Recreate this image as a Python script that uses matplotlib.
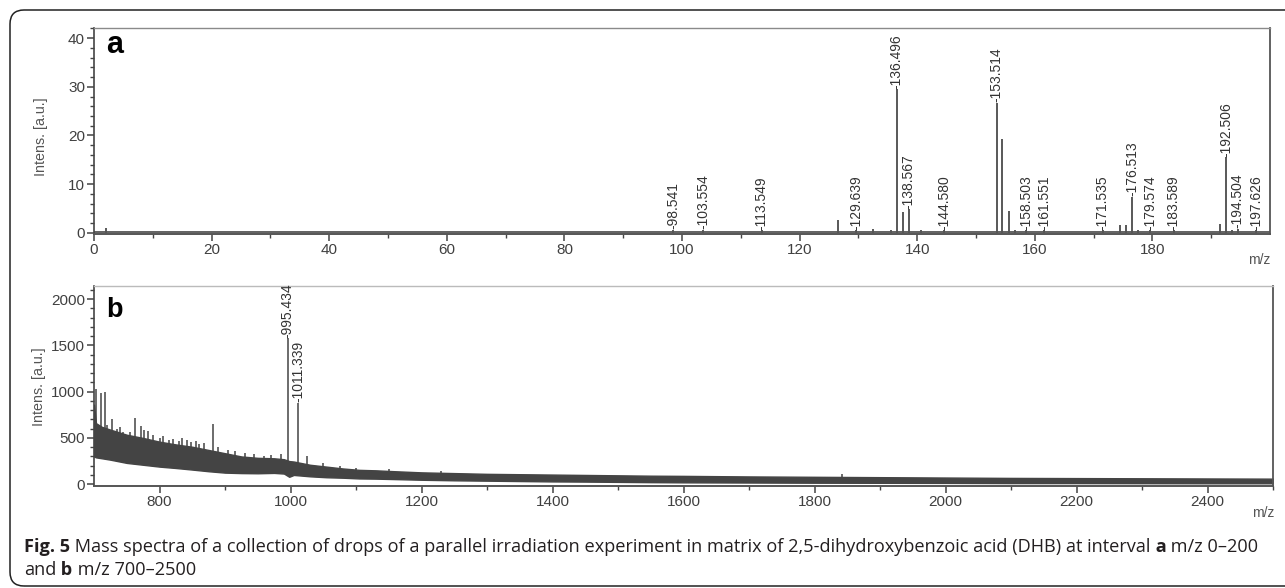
import numpy as np
import matplotlib
matplotlib.use('Agg')
import matplotlib.pyplot as plt
from matplotlib.patches import FancyBboxPatch
from matplotlib.transforms import IdentityTransform
from matplotlib.ticker import FixedLocator

# ---------------- data: panel a (m/z 0-200) ----------------
a_mz = [2.1, 98.541, 103.554, 113.549, 126.6, 129.639, 132.5, 135.6, 136.496, 137.6,
        138.567, 140.6, 144.580, 153.514, 154.5, 155.6, 156.6, 158.503, 161.551,
        171.535, 174.5, 175.5, 176.513, 177.6, 179.574, 183.589, 191.5, 192.506,
        193.5, 194.504, 197.626]
a_int = [1.0, 0.6, 0.6, 0.5, 2.6, 0.5, 0.8, 0.6, 29.5, 4.3,
         4.8, 0.5, 0.5, 26.7, 19.2, 4.5, 0.6, 0.5, 0.5,
         0.5, 1.6, 1.6, 7.4, 0.6, 0.5, 0.5, 1.7, 15.5,
         0.6, 0.8, 0.5]
a_labels = ['', '98.541', '103.554', '113.549', '', '129.639', '', '', '136.496', '',
            '138.567', '', '144.580', '153.514', '', '', '', '158.503', '161.551',
            '171.535', '', '', '176.513', '', '179.574', '183.589', '', '192.506',
            '', '194.504', '197.626']
a_xticks = [0, 20, 40, 60, 80, 100, 120, 140, 160, 180]
a_yticks = [0, 10, 20, 30, 40]

# ---------------- data: panel b (m/z 700-2500) ----------------
band_mz = [700, 703, 712, 725, 750, 775, 800, 825, 850, 875, 900, 925, 950, 975, 990,
           998, 1005, 1030, 1055, 1080, 1105, 1130, 1160, 1200, 1250, 1300, 1350, 1400,
           1450, 1500, 1550, 1600, 1700, 1800, 1900, 2000, 2100, 2200, 2300, 2400, 2500]
band_hi = [860, 660, 620, 590, 535, 500, 460, 430, 405, 370, 335, 300, 285, 280, 270,
           250, 245, 210, 190, 170, 155, 150, 140, 128, 120, 112, 108, 104,
           100, 96, 92, 90, 84, 80, 76, 72, 68, 66, 64, 62, 60]
band_lo = [300, 290, 280, 265, 230, 210, 190, 175, 158, 140, 125, 120, 118, 122, 115,
           80, 100, 85, 75, 70, 62, 60, 55, 48, 42, 38, 34, 30,
           28, 25, 22, 20, 18, 16, 15, 14, 12, 12, 11, 10, 10]
b_spike_mz = [703.8, 710, 716.5, 720, 728, 735, 740, 745, 755, 763, 771, 776, 782,
              790, 800, 805, 815, 820, 830, 835, 842, 848, 855, 860, 868, 882, 890,
              905, 915, 930, 945, 960, 970, 985, 995.434, 1011.339, 1025, 1050, 1075,
              1100, 1150, 1230, 1842]
b_spike_int = [1030, 990, 1000, 640, 700, 600, 620, 560, 560, 712, 630, 590, 580,
               530, 500, 520, 480, 490, 470, 500, 480, 460, 470, 440, 450, 650, 400,
               370, 360, 340, 330, 300, 320, 330, 1580, 882, 300, 230, 200,
               180, 160, 140, 110]
b_labels = {995.434: '995.434', 1011.339: '1011.339'}
b_xticks = [800, 1000, 1200, 1400, 1600, 1800, 2000, 2200, 2400]
b_yticks = [0, 500, 1000, 1500, 2000]

W, H = 1285, 588
fig = plt.figure(figsize=(W / 100, H / 100), dpi=100)


def fx(px):
    return px / W


def fy(py):
    return 1 - py / H


TICKFONT = 'Liberation Sans'
INK = '#3c3c3c'

axA = fig.add_axes([fx(94), fy(234), fx(1270) - fx(94), (234 - 28) / H])
axB = fig.add_axes([fx(94), fy(486), fx(1273) - fx(94), (486 - 286) / H])

# panel a
axA.vlines(a_mz, 0, a_int, color=INK, lw=1.2)
axA.axhline(0.15, color='#555555', lw=1.3)
for mz, h, lab in zip(a_mz, a_int, a_labels):
    if lab:
        axA.text(mz, h + 0.1, '-' + lab, rotation=90, ha='center', va='bottom',
                 fontsize=10, family=TICKFONT, color='#333333')
axA.set_xlim(0, 200)
axA.set_ylim(-0.27, 42.1)
axA.xaxis.set_major_locator(FixedLocator(a_xticks))
axA.xaxis.set_minor_locator(FixedLocator([t + 10 for t in a_xticks]))
axA.yaxis.set_major_locator(FixedLocator(a_yticks))
axA.yaxis.set_minor_locator(FixedLocator(list(range(0, 43, 2))))

# panel b: noise band + spikes rising out of it
axB.fill_between(band_mz, band_lo, band_hi, color='#444444', lw=1.0, edgecolor='#444444')
spike_base = np.interp(b_spike_mz, band_mz, band_lo)
axB.vlines(b_spike_mz, spike_base, b_spike_int, color='#444444', lw=1.1)
for mz, h in zip(b_spike_mz, b_spike_int):
    if mz in b_labels:
        axB.text(mz, h + 5, '-' + b_labels[mz], rotation=90, ha='center', va='bottom',
                 fontsize=10, family=TICKFONT, color='#333333')
axB.set_xlim(700, 2500)
axB.set_ylim(-19.5, 2143)
axB.xaxis.set_major_locator(FixedLocator(b_xticks))
axB.xaxis.set_minor_locator(FixedLocator([t + 100 for t in b_xticks]))
axB.yaxis.set_major_locator(FixedLocator(b_yticks))
axB.yaxis.set_minor_locator(FixedLocator(list(range(0, 2101, 100))))

for ax, topc in ((axA, '#8a8a8a'), (axB, '#bbbbbb')):
    ax.spines['left'].set_color('#444444')
    ax.spines['left'].set_linewidth(1.2)
    ax.spines['bottom'].set_color('#555555')
    ax.spines['bottom'].set_linewidth(1.4)
    ax.spines['top'].set_color(topc)
    ax.spines['top'].set_linewidth(1.0)
    ax.spines['right'].set_color('#555555')
    ax.spines['right'].set_linewidth(1.3)
    ax.tick_params(which='major', direction='out', length=5, width=1.1, color='#444444',
                   labelsize=11, labelcolor='#404040', pad=1.5)
    ax.tick_params(which='minor', direction='out', length=3, width=1.0, color='#444444')
    ax.tick_params(top=False, right=False, which='both')
    for lab in ax.get_xticklabels() + ax.get_yticklabels():
        lab.set_family(TICKFONT)

# y labels, m/z labels, panel letters
fig.text(fx(41), fy(137), 'Intens. [a.u.]', rotation=90, ha='center', va='center',
         fontsize=10.3, family=TICKFONT, color='#555555')
fig.text(fx(39), fy(387), 'Intens. [a.u.]', rotation=90, ha='center', va='center',
         fontsize=10.3, family=TICKFONT, color='#555555')
fig.text(fx(1270), fy(260), 'm/z', ha='right', va='center', fontsize=10,
         family=TICKFONT, color='#555555')
fig.text(fx(1274), fy(513), 'm/z', ha='right', va='center', fontsize=10,
         family=TICKFONT, color='#555555')
fig.text(fx(106), fy(53), 'a', ha='left', va='baseline', fontsize=22, fontweight='bold',
         family=TICKFONT, color='black')
fig.text(fx(106), fy(317), 'b', ha='left', va='baseline', fontsize=19.5, fontweight='bold',
         family=TICKFONT, color='black')

# outer rounded frame
frame = FancyBboxPatch((10, H - 586), 1300, 576, boxstyle='round,pad=0,rounding_size=14',
                       transform=IdentityTransform(), fill=False, edgecolor='#222222', lw=1.1)
fig.patches.append(frame)

# caption with mixed weights
CAPFONT = 'Open Sans'
CAPSIZE = 13.1
renderer = fig.canvas.get_renderer()


def put_runs(x_px, y_px, runs):
    x = x_px
    for s, w in runs:
        t = fig.text(fx(x), fy(y_px), s, ha='left', va='baseline', fontsize=CAPSIZE,
                     fontweight=w, family=CAPFONT, color='#231f20')
        bb = t.get_window_extent(renderer)
        x += bb.width


put_runs(24, 552, [('Fig. 5', 'bold'),
                   (' Mass spectra of a collection of drops of a parallel irradiation experiment '
                    'in matrix of 2,5-dihydroxybenzoic acid (DHB) at interval', 'normal'),
                   (' a', 'bold'), (' m/z 0\u2013200', 'normal')])
put_runs(24, 575, [('and', 'normal'), (' b', 'bold'), (' m/z 700\u20132500', 'normal')])

fig.savefig('out.png', dpi=100)
